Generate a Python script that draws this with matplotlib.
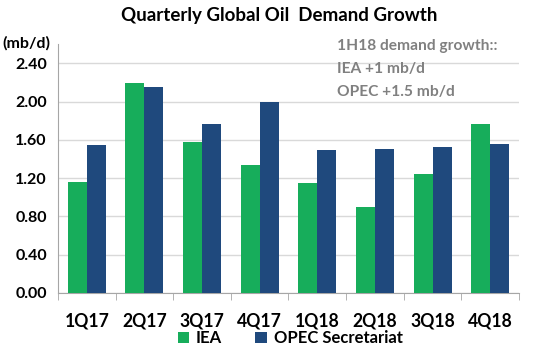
import numpy as np
from matplotlib import pyplot as plt

plt.rcParams['font.family'] = ['Lato', 'DejaVu Sans']

quarters = ["1Q17", "2Q17", "3Q17", "4Q17", "1Q18", "2Q18", "3Q18", "4Q18"]
iea = [1.16, 2.20, 1.58, 1.34, 1.15, 0.90, 1.24, 1.77]
opec = [1.55, 2.15, 1.77, 2.00, 1.50, 1.51, 1.53, 1.56]
yticks = [0.0, 0.4, 0.8, 1.2, 1.6, 2.0, 2.4]

green = "#17ad5b"
blue = "#1f497d"
grey = "#808080"

fig = plt.figure(figsize=(5.58, 3.55), dpi=100)
ax = fig.add_axes([0.104, 0.175, 0.826, 0.70])

x = np.arange(len(quarters))
w = 0.33
ax.bar(x - w/2, iea, w, color=green, label="IEA", zorder=3)
ax.bar(x + w/2, opec, w, color=blue, label="OPEC Secretariat", zorder=3)

ax.set_xlim(-0.5, len(quarters) - 0.5)
ax.set_ylim(0, 2.6)
ax.set_yticks(yticks)
ax.set_yticklabels([f"{v:.2f}" for v in yticks], fontsize=11.5, fontweight="bold")
ax.set_xticks(x)
ax.set_xticklabels(quarters, fontsize=12.7, fontweight="bold")
ax.set_xticks(np.arange(len(quarters) + 1) - 0.5, minor=True)
ax.tick_params(axis="x", which="major", length=0, pad=14)
ax.tick_params(axis="x", which="minor", length=5, color="#a6a6a6", direction="out")
ax.tick_params(axis="y", length=0, pad=8)

ax.grid(axis="y", color="#d9d9d9", linewidth=1, zorder=0)
for s in ["top", "right"]:
    ax.spines[s].set_visible(False)
ax.spines["left"].set_color("#a6a6a6")
ax.spines["bottom"].set_color("#a6a6a6")

fig.text(0.5, 0.94, "Quarterly Global Oil  Demand Growth", ha="center", fontsize=13.5, fontweight="bold")
fig.text(0.004, 0.865, "(mb/d)", fontsize=11.5, fontweight="bold")
fig.text(0.604, 0.89, "1H18 demand growth::\nIEA +1 mb/d\nOPEC +1.5 mb/d", color=grey,
         fontsize=11.2, fontweight="bold", va="top", linespacing=1.8)

fig.legend(loc="lower center", bbox_to_anchor=(0.52, -0.018), ncol=2, frameon=False,
           prop={"weight": "bold", "size": 12},
           handlelength=0.7, handleheight=0.7, handletextpad=0.4, columnspacing=2.0)

plt.savefig("out.png", dpi=100)
